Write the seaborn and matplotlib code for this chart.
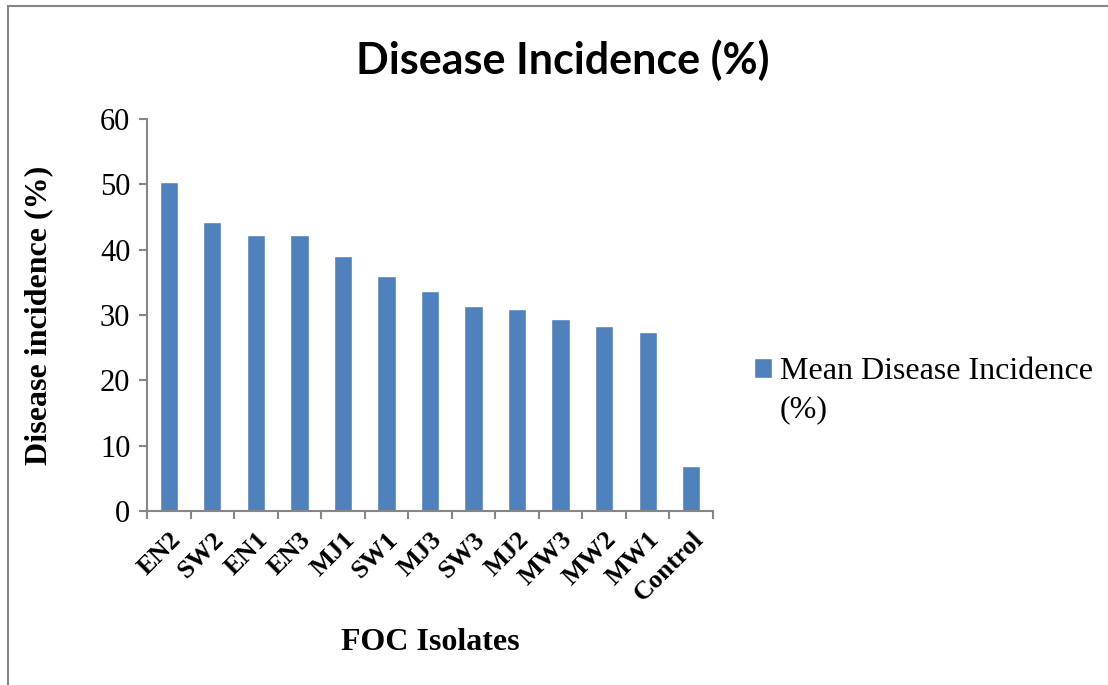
import numpy as np
import pandas as pd
import seaborn as sns
import matplotlib.pyplot as plt
from matplotlib.patches import Rectangle

isolates = ['EN2', 'SW2', 'EN1', 'EN3', 'MJ1', 'SW1', 'MJ3', 'SW3', 'MJ2',
            'MW3', 'MW2', 'MW1', 'Control']
incidence = [50.4, 44.3, 42.3, 42.3, 39.0, 36.0, 33.7, 31.4, 31.0,
             29.4, 28.3, 27.4, 6.9]
yticks = [0, 10, 20, 30, 40, 50, 60]

df = pd.DataFrame({'isolate': isolates, 'incidence': incidence})

sns.set_style('white')
plt.rcParams['font.family'] = ['Liberation Serif', 'DejaVu Serif']
plt.rcParams['text.color'] = 'black'
plt.rcParams['axes.labelcolor'] = 'black'
plt.rcParams['xtick.color'] = 'black'
plt.rcParams['ytick.color'] = 'black'

fig = plt.figure(figsize=(11.08, 6.85), dpi=100)
ax = fig.add_axes([0.1327, 0.254, 0.5108, 0.572])

sns.barplot(ax=ax, data=df, x='isolate', y='incidence', color='#4F81BD',
            width=0.42, saturation=1, label='Mean Disease Incidence')

ax.set_ylim(0, 60)
ax.set_xlim(-0.5, len(isolates) - 0.5)
ax.set_yticks(yticks)
ax.set_yticklabels([str(t) for t in yticks], fontsize=22)

ax.set_xticks(range(len(isolates)))
ax.set_xticklabels(isolates, rotation=45, ha='right', rotation_mode='anchor',
                   fontsize=19, fontweight='bold')
ax.tick_params(axis='x', which='major', length=0, pad=12)
ax.set_xticks(np.arange(-0.5, len(isolates)), minor=True)
ax.tick_params(axis='x', which='minor', length=6, color='#868686', width=1.5,
               direction='out', bottom=True)
ax.tick_params(axis='y', length=6, color='#868686', width=1.5, left=True,
               direction='out', pad=6, labelcolor='black')

for s in ['top', 'right']:
    ax.spines[s].set_visible(False)
for s in ['left', 'bottom']:
    ax.spines[s].set_color('#868686')
    ax.spines[s].set_linewidth(1.5)

ax.set_xlabel('FOC Isolates', fontsize=23, fontweight='bold', labelpad=16)
ax.set_ylabel('Disease incidence (%)', fontsize=23, fontweight='bold', labelpad=34)

fig.text(0.508, 0.912, 'Disease Incidence (%)', ha='center', va='center',
         fontsize=31, fontweight='bold', family=['Lato', 'DejaVu Sans'])

leg = ax.legend(loc='center left', bbox_to_anchor=(1.073, 0.355), frameon=False,
                fontsize=23, handlelength=0.55, handleheight=0.55,
                handletextpad=0.25, borderaxespad=0, borderpad=0)
fig.text(780 / 1108, 1 - 410 / 685, '(%)', ha='left', va='center', fontsize=23)

fig.patches.append(Rectangle((8 / 1108, -0.1), 1.2, 1.1 - 6 / 685,
                             transform=fig.transFigure, fill=False,
                             edgecolor='#868686', linewidth=1.5))

fig.savefig('out.png', dpi=100)
